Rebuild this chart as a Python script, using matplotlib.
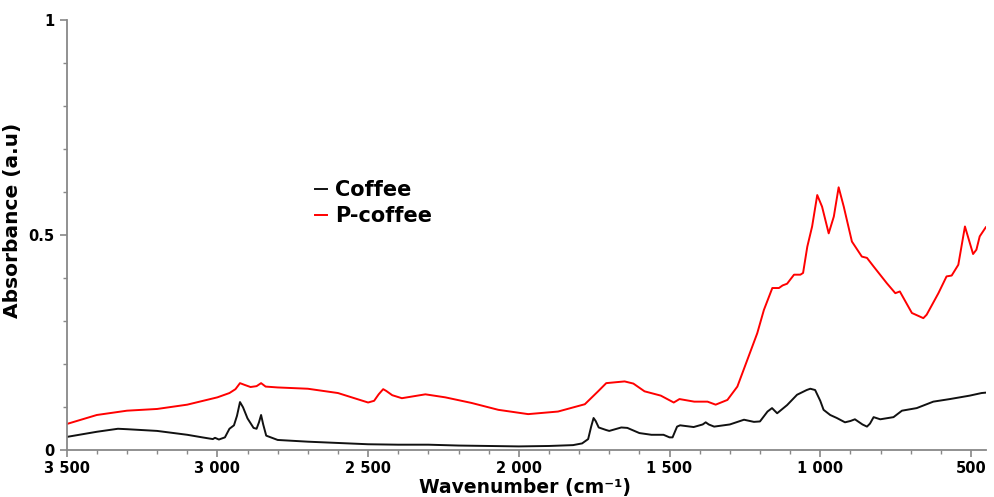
import matplotlib
matplotlib.use("Agg")
import matplotlib.pyplot as plt
from matplotlib.ticker import MultipleLocator, FuncFormatter

# ── Data ──
coffee_wn = [3500, 3400, 3330, 3300, 3200, 3100, 3050, 3015, 3008, 2995, 2975, 2960,
             2945, 2935, 2925, 2915, 2900, 2880, 2870, 2862, 2855, 2848, 2838, 2800,
             2700, 2600, 2500, 2400, 2300, 2200, 2100, 2000, 1900, 1820, 1790, 1770,
             1760, 1752, 1745, 1735, 1710, 1700, 1660, 1640, 1600, 1560, 1520, 1500,
             1490, 1475, 1465, 1420, 1390, 1380, 1370, 1352, 1300, 1253, 1220, 1200,
             1175, 1160, 1143, 1110, 1077, 1045, 1033, 1017, 1000, 989, 967, 945, 918,
             900, 885, 860, 845, 835, 823, 801, 757, 729, 680, 625, 570, 504, 465, 450]
coffee_abs = [0.031, 0.043, 0.050, 0.049, 0.045, 0.036, 0.030, 0.026, 0.029, 0.025, 0.030, 0.050,
              0.058, 0.080, 0.112, 0.100, 0.074, 0.052, 0.050, 0.065, 0.082, 0.060, 0.034, 0.024,
              0.020, 0.017, 0.014, 0.013, 0.013, 0.011, 0.010, 0.009, 0.010, 0.012, 0.016, 0.026,
              0.055, 0.075, 0.068, 0.053, 0.047, 0.045, 0.053, 0.052, 0.040, 0.036, 0.036, 0.030,
              0.030, 0.055, 0.058, 0.054, 0.060, 0.065, 0.060, 0.055, 0.060, 0.071, 0.066, 0.067,
              0.090, 0.098, 0.086, 0.105, 0.129, 0.140, 0.143, 0.140, 0.115, 0.094, 0.082, 0.075, 0.065,
              0.068, 0.072, 0.060, 0.055, 0.062, 0.077, 0.072, 0.077, 0.092, 0.098, 0.113, 0.119, 0.127, 0.133, 0.134]

pcoffee_wn = [3500, 3400, 3300, 3200, 3100, 3000, 2960, 2940, 2925, 2910, 2890, 2870,
              2855, 2840, 2800, 2700, 2600, 2550, 2500, 2480, 2465, 2450, 2440, 2420,
              2388, 2310, 2244, 2157, 2068, 1969, 1870, 1781, 1737, 1710, 1680, 1649,
              1620, 1583, 1529, 1486, 1467, 1418, 1374, 1347, 1308, 1275, 1242, 1209,
              1187, 1159, 1137, 1125, 1110, 1087, 1066, 1057, 1043, 1027, 1010, 994,
              972, 955, 939, 922, 895, 862, 845, 823, 779, 751, 736, 696, 658, 647,
              608, 581, 564, 542, 520, 493, 482, 471, 451]
pcoffee_abs = [0.061, 0.082, 0.092, 0.096, 0.106, 0.123, 0.133, 0.142, 0.156, 0.152, 0.147, 0.149,
               0.156, 0.148, 0.146, 0.143, 0.133, 0.122, 0.111, 0.115, 0.130, 0.142, 0.138, 0.128,
               0.121, 0.130, 0.123, 0.110, 0.094, 0.084, 0.090, 0.107, 0.137, 0.156, 0.158, 0.160,
               0.155, 0.137, 0.127, 0.111, 0.119, 0.113, 0.113, 0.106, 0.117, 0.148, 0.210, 0.272,
               0.326, 0.377, 0.377, 0.383, 0.387, 0.408, 0.408, 0.412, 0.473, 0.520, 0.593, 0.566,
               0.504, 0.543, 0.611, 0.566, 0.485, 0.450, 0.447, 0.427, 0.388, 0.365, 0.369, 0.319, 0.307, 0.315,
               0.365, 0.404, 0.406, 0.431, 0.520, 0.456, 0.466, 0.497, 0.518]

fig = plt.figure(figsize=(9.95, 4.97), dpi=100)
ax = fig.add_axes([0.067, 0.094, 0.924, 0.866])

ax.plot(coffee_wn, coffee_abs, color="#111111", linewidth=1.4, label="Coffee")
ax.plot(pcoffee_wn, pcoffee_abs, color="#ff0000", linewidth=1.4, label="P-coffee")

ax.set_xlim(3500, 450)
ax.set_ylim(0, 1)

ax.xaxis.set_major_locator(MultipleLocator(500))
ax.xaxis.set_minor_locator(MultipleLocator(100))
ax.yaxis.set_major_locator(MultipleLocator(0.5))
ax.yaxis.set_minor_locator(MultipleLocator(0.1))
ax.xaxis.set_major_formatter(FuncFormatter(lambda v, p: f"{int(v):,}".replace(",", " ")))
ax.yaxis.set_major_formatter(FuncFormatter(lambda v, p: f"{v:g}"))

for s in ["top", "right"]:
    ax.spines[s].set_visible(False)
for s in ["left", "bottom"]:
    ax.spines[s].set_color("#888888")
    ax.spines[s].set_linewidth(1.3)

ax.tick_params(which="both", colors="#888888", direction="out")
ax.tick_params(which="major", length=5, width=1.2, labelsize=10.5, labelcolor="black")
ax.tick_params(axis="x", which="major", pad=2.5)
ax.tick_params(which="minor", length=3, width=1.0)
for lab in ax.get_xticklabels() + ax.get_yticklabels():
    lab.set_fontweight("bold")

fig.text(0.528, 0.0, "Wavenumber (cm\u207b\u00b9)", ha="center", va="bottom",
         fontsize=13.5, fontweight="bold")
ax.set_ylabel("Absorbance (a.u)", fontsize=14.5, fontweight="bold")
ax.yaxis.set_label_coords(-0.049, 0.535)

leg = ax.legend(loc="upper left", bbox_to_anchor=(0.25, 0.672), frameon=False,
                handlelength=0.55, handletextpad=0.4, labelspacing=0.3,
                prop={"size": 15, "weight": "bold"})

fig.savefig("out.png", dpi=100)
